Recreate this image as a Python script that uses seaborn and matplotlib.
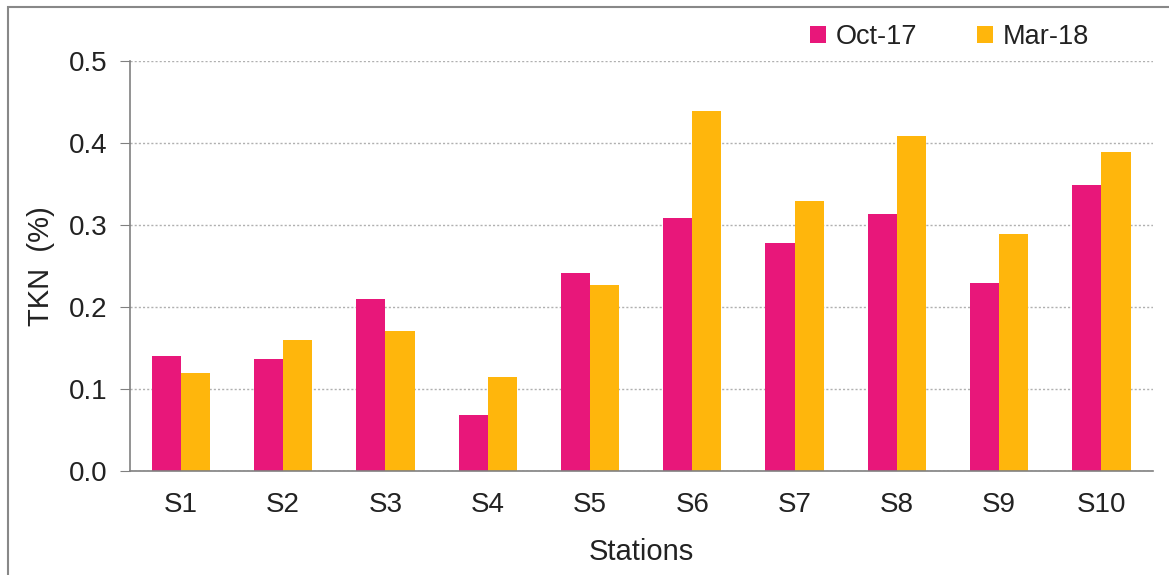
import matplotlib
matplotlib.use("Agg")
import matplotlib.pyplot as plt
import seaborn as sns
import pandas as pd
from matplotlib.patches import Rectangle

stations = ["S1", "S2", "S3", "S4", "S5", "S6", "S7", "S8", "S9", "S10"]
oct17 = [0.140, 0.137, 0.210, 0.068, 0.241, 0.309, 0.278, 0.313, 0.229, 0.349]
mar18 = [0.120, 0.160, 0.171, 0.115, 0.227, 0.439, 0.329, 0.409, 0.289, 0.389]
series = ["Oct-17", "Mar-18"]
colors = ["#E8177A", "#FFB60C"]
yticks = [0.0, 0.1, 0.2, 0.3, 0.4, 0.5]

df = pd.DataFrame({
    "Stations": stations * 2,
    "TKN": oct17 + mar18,
    "Series": [series[0]] * len(stations) + [series[1]] * len(stations),
})

sns.set_style("white")
plt.rcParams["font.family"] = ["Liberation Sans", "DejaVu Sans"]

fig = plt.figure(figsize=(11.69, 5.75), dpi=100)
ax = fig.add_axes([0.111, 0.181, 0.875, 0.713])

sns.barplot(data=df, x="Stations", y="TKN", hue="Series", order=stations,
            hue_order=series, palette=colors, width=0.57, saturation=1,
            ax=ax, edgecolor="none", linewidth=0)

ax.set_xlim(-0.5, 9.5)
ax.set_ylim(0, 0.5)
ax.set_yticks(yticks)
ax.set_yticklabels([f"{v:.1f}" for v in yticks])
ax.yaxis.grid(True, linestyle=(0, (1.5, 1.5)), color="#b0b0b0", linewidth=1)
ax.set_axisbelow(True)
for s in ["top", "right"]:
    ax.spines[s].set_visible(False)
for s in ["left", "bottom"]:
    ax.spines[s].set_color("#808080")
    ax.spines[s].set_linewidth(1.2)
ax.tick_params(axis="y", which="both", left=True, length=7, color="#808080",
               labelsize=20, pad=9, direction="out", labelcolor="#222222")
ax.tick_params(axis="x", bottom=False, labelsize=20, pad=12, labelcolor="#222222")
ax.set_xlabel("Stations", fontsize=21, labelpad=14, color="#222222")
ax.set_ylabel("TKN  (%)", fontsize=21, labelpad=10, color="#222222")

leg = ax.legend(loc="lower right", bbox_to_anchor=(0.948, 1.0), ncol=2,
                frameon=False, fontsize=19.5, handlelength=0.6, handleheight=0.6,
                handletextpad=0.35, columnspacing=2.2, borderaxespad=0.0)
for t in leg.get_texts():
    t.set_color("#222222")

fig.patches.append(Rectangle((0.007, -0.05), 1.1, 1.038, transform=fig.transFigure,
                             fill=False, edgecolor="#888888", linewidth=1.5))

fig.savefig("out.png", dpi=100)
